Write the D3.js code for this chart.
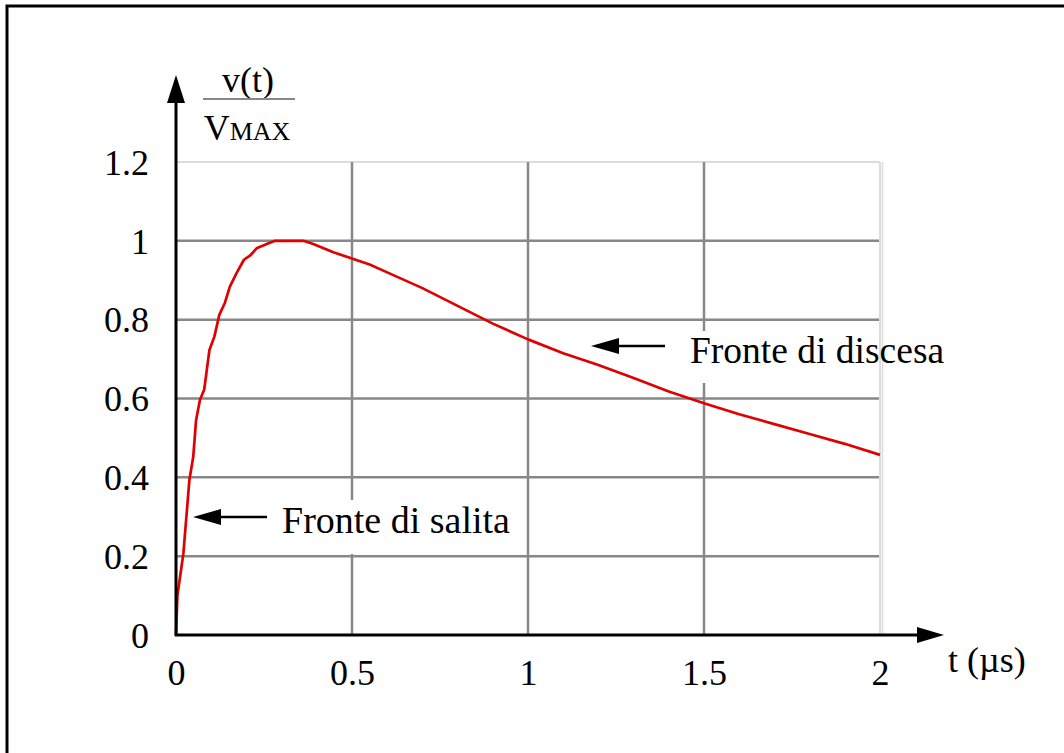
<!DOCTYPE html>
<html>
<head>
<meta charset="utf-8">
<script src="https://cdn.jsdelivr.net/npm/d3@7"></script>
<style>
  body { margin: 0; background: #fff; }
  text { font-family: "Liberation Serif", "Times New Roman", serif; }
</style>
</head>
<body>
<div id="container"></div>
<script>
let w = 1064;
let h = 753;

// data: t in microseconds, v / Vmax
let times = [0, 0.004, 0.021, 0.038, 0.049, 0.057, 0.068, 0.08, 0.095, 0.109, 0.123, 0.139, 0.153,
  0.172, 0.193, 0.212, 0.229, 0.258, 0.281, 0.362, 0.39, 0.447, 0.504, 0.55, 0.6, 0.7, 0.8, 0.9,
  1.0, 1.1, 1.2, 1.3, 1.4, 1.5, 1.6, 1.7, 1.8, 1.9, 2.0];
let values = [0, 0.1, 0.207, 0.393, 0.452, 0.545, 0.596, 0.622, 0.723, 0.757, 0.812, 0.843, 0.884,
  0.918, 0.952, 0.964, 0.981, 0.992, 1.0, 1.0, 0.992, 0.971, 0.954, 0.94, 0.92, 0.88, 0.835, 0.79,
  0.75, 0.715, 0.685, 0.652, 0.618, 0.588, 0.56, 0.535, 0.51, 0.485, 0.457];

let xTicks = [0, 0.5, 1, 1.5, 2];
let yTicks = [0, 0.2, 0.4, 0.6, 0.8, 1, 1.2];

let viz = d3.select("#container")
  .append("svg")
    .attr("width", w)
    .attr("height", h)
;

// frame (only top and left edges show)
viz.append("path")
  .attr("d", "M7,753 L7,6 L1064,6")
  .attr("fill", "none")
  .attr("stroke", "black")
  .attr("stroke-width", 3);

let xScale = d3.scaleLinear().domain([0, 2]).range([176, 880]);
let yScale = d3.scaleLinear().domain([0, 1.2]).range([635, 162]);

// grid
let grid = viz.append("g").attr("class", "grid");
grid.selectAll(".hline").data(yTicks.filter(d => d > 0)).enter()
  .append("line")
    .attr("x1", xScale(0))
    .attr("x2", xScale(2))
    .attr("y1", d => yScale(d))
    .attr("y2", d => yScale(d))
    .attr("stroke", d => d > 1 ? "#dcdcdc" : "#888")
    .attr("stroke-width", d => d > 1 ? 2 : 2.5)
;
grid.selectAll(".vline").data(xTicks.filter(d => d > 0)).enter()
  .append("line")
    .attr("x1", d => xScale(d))
    .attr("x2", d => xScale(d))
    .attr("y1", yScale(1.2))
    .attr("y2", yScale(0))
    .attr("stroke", d => d >= 2 ? "#dcdcdc" : "#888")
    .attr("stroke-width", d => d >= 2 ? 2 : 2.5)
;
grid.append("line")
  .attr("x1", xScale(2) + 2.5).attr("x2", xScale(2) + 2.5)
  .attr("y1", yScale(1.2)).attr("y2", yScale(0))
  .attr("stroke", "#dcdcdc").attr("stroke-width", 1.5);

// white boxes behind the annotation texts
viz.append("rect").attr("x", 278).attr("y", 500).attr("width", 238).attr("height", 54).attr("fill", "white");
viz.append("rect").attr("x", 686).attr("y", 331).attr("width", 190).attr("height", 52).attr("fill", "white");

// curve
let line = d3.line()
  .x(d => xScale(d[0]))
  .y(d => yScale(d[1]));

viz.append("path")
  .datum(d3.zip(times, values))
  .attr("d", line)
  .attr("fill", "none")
  .attr("stroke", "#e00000")
  .attr("stroke-width", 2.7)
  .attr("stroke-linejoin", "round");

// axes with arrows
viz.append("line")
  .attr("x1", xScale(0) - 1).attr("x2", 920)
  .attr("y1", yScale(0)).attr("y2", yScale(0))
  .attr("stroke", "black").attr("stroke-width", 3);
viz.append("path")
  .attr("d", "M944," + yScale(0) + " L917," + (yScale(0) - 8) + " L917," + (yScale(0) + 8) + " Z")
  .attr("fill", "black");

viz.append("line")
  .attr("x1", xScale(0)).attr("x2", xScale(0))
  .attr("y1", yScale(0) + 1).attr("y2", 100)
  .attr("stroke", "black").attr("stroke-width", 3);
viz.append("path")
  .attr("d", "M" + xScale(0) + ",75 L" + (xScale(0) - 9) + ",103 L" + (xScale(0) + 9) + ",103 Z")
  .attr("fill", "black");

// tick labels
let xAxis = d3.axisBottom(xScale).tickValues(xTicks).tickSize(0).tickPadding(0).tickFormat(d3.format(""));
let xAxisGroup = viz.append("g").attr("class", "xaxis")
  .attr("transform", "translate(0, " + yScale(0) + ")")
  .call(xAxis);
xAxisGroup.select(".domain").remove();
xAxisGroup.selectAll("text")
  .attr("dy", null)
  .attr("y", 50)
  .attr("font-size", 36)
  .attr("font-family", "Liberation Serif")
  .attr("fill", "black");

let yAxis = d3.axisLeft(yScale).tickValues(yTicks).tickSize(0).tickPadding(0).tickFormat(d3.format(""));
let yAxisGroup = viz.append("g").attr("class", "yaxis")
  .attr("transform", "translate(" + xScale(0) + ", 0)")
  .call(yAxis);
yAxisGroup.select(".domain").remove();
yAxisGroup.selectAll("text")
  .attr("x", -27)
  .attr("dy", "0.34em")
  .attr("font-size", 36)
  .attr("font-family", "Liberation Serif")
  .attr("fill", "black");

// axis titles
viz.append("text")
  .attr("x", 948).attr("y", 672)
  .attr("font-size", 36)
  .text("t (µs)");

viz.append("text")
  .attr("x", 248).attr("y", 92)
  .attr("text-anchor", "middle")
  .attr("font-size", 36)
  .text("v(t)");
viz.append("line")
  .attr("x1", 203).attr("x2", 295)
  .attr("y1", 99).attr("y2", 99)
  .attr("stroke", "#888").attr("stroke-width", 2);
let vmax = viz.append("text")
  .attr("x", 247).attr("y", 140)
  .attr("text-anchor", "middle")
  .attr("font-size", 36);
vmax.append("tspan").text("V");
vmax.append("tspan").attr("font-size", 26).text("MAX");

// annotations
function arrow(x1, x2, y) {
  viz.append("line")
    .attr("x1", x1 + 25).attr("x2", x2)
    .attr("y1", y).attr("y2", y)
    .attr("stroke", "black").attr("stroke-width", 2.5);
  viz.append("path")
    .attr("d", "M" + x1 + "," + y + " L" + (x1 + 28) + "," + (y - 8) + " L" + (x1 + 28) + "," + (y + 8) + " Z")
    .attr("fill", "black");
}
arrow(193, 267, 517);
arrow(591, 665, 346);

viz.append("text").attr("x", 282).attr("y", 533).attr("font-size", 38).text("Fronte di salita");
viz.append("text").attr("x", 690).attr("y", 363).attr("font-size", 37.5).text("Fronte di discesa");
</script>
</body>
</html>
